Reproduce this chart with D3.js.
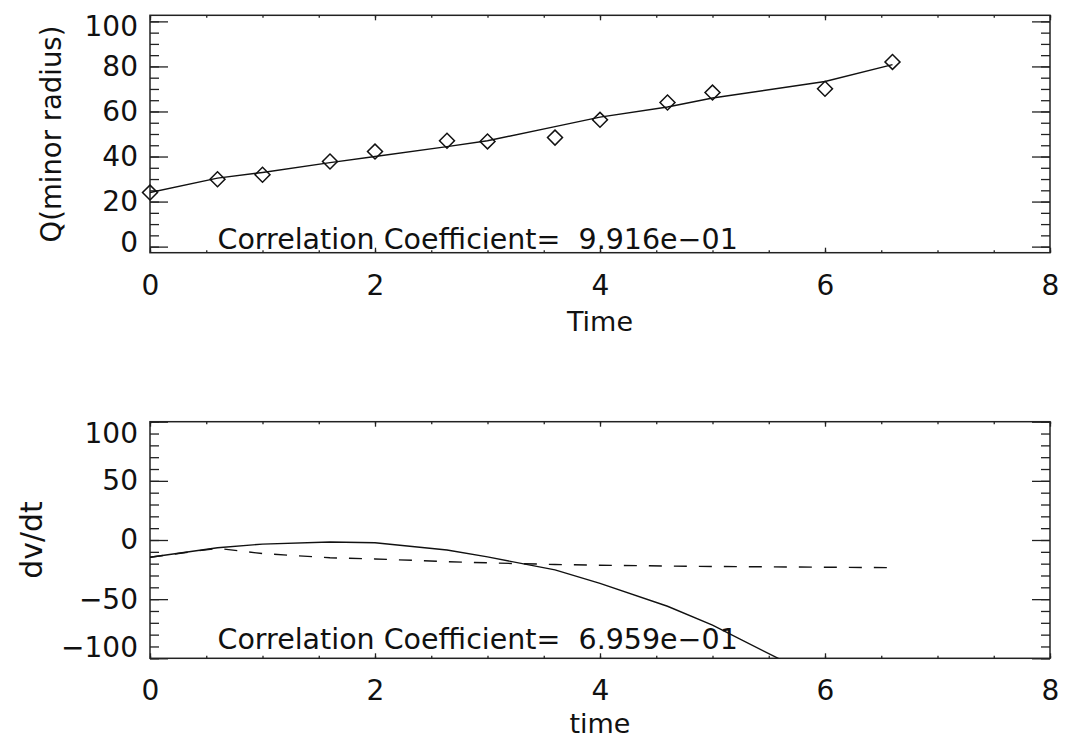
<!DOCTYPE html>
<html>
<head>
<meta charset="utf-8">
<script src="https://cdn.jsdelivr.net/npm/d3@7"></script>
<style>
body { margin: 0; background: #fff; }
svg { display: block; }
text { font-family: "DejaVu Sans", sans-serif; fill: #111; }
.frame { fill: none; stroke: #222; stroke-width: 1.5; }
.tick line { stroke: #222; stroke-width: 1.3; }
.domain { display: none; }
</style>
</head>
<body>
<script>
var width = 1066,
    height = 742;

// sample times
var times = [0, 0.6, 1.0, 1.6, 2.0, 2.64, 3.0, 3.6, 4.0, 4.6, 5.0, 6.0, 6.6];

// upper panel: Q(minor radius)
var radiusObs = [24.0, 29.9, 31.9, 37.8, 42.2, 47.0, 46.7, 48.4, 56.3, 64.0, 68.4, 70.1, 82.0];
var radiusFit = [24.0, 30.4, 32.9, 37.3, 40.0, 44.4, 47.0, 53.3, 57.5, 62.0, 66.0, 73.3, 80.8];

// lower panel: dv/dt
var dvdtSolid = [-14.6, -6.5, -3.5, -1.7, -2.3, -8.5, -14.3, -25.3, -36.6, -56.0, -72.0, -120.0, -150.0];
var dvdtDashed = [-14.6, -7.0, -11.5, -15.0, -16.0, -18.3, -19.3, -20.7, -21.3, -22.0, -22.4, -23.0, -23.4];

// axes
var timeTicks = [0, 2, 4, 6, 8];
var radiusTicks = [0, 20, 40, 60, 80, 100];
var dvdtTicks = [-100, -50, 0, 50, 100];
var radiusRange = [-2.7, 102.7];
var dvdtRange = [-100, 100];

var corrTexts = ["Correlation Coefficient=  9.916e\u221201", "Correlation Coefficient=  6.959e\u221201"];

var svg = d3.select("body").append("svg")
    .attr("width", width)
    .attr("height", height);

svg.append("rect")
    .attr("width", width)
    .attr("height", height)
    .attr("fill", "#fff");

function drawPanel(p) {
    var w = 900, h = p.h;
    var g = svg.append("g").attr("transform", "translate(150," + p.top + ")");

    var x = d3.scaleLinear().domain([0, 8]).range([0, w]);
    var y = d3.scaleLinear().domain(p.yDomain).range([h, 0]);

    var clipId = "clip" + p.id;
    g.append("clipPath").attr("id", clipId)
        .append("rect").attr("width", w).attr("height", h);

    // minor ticks
    var xMinor = d3.range(0, 8.001, 0.5);
    var yMinor = d3.range(p.yTicks[0], p.yTicks[p.yTicks.length - 1] + 0.001, p.yMinorStep);

    g.append("g").attr("transform", "translate(0," + h + ")")
        .call(d3.axisBottom(x).tickValues(xMinor).tickSize(-2.5).tickFormat(""));
    g.append("g")
        .call(d3.axisTop(x).tickValues(xMinor).tickSize(-2.5).tickFormat(""));
    g.append("g")
        .call(d3.axisLeft(y).tickValues(yMinor).tickSize(-9).tickFormat(""));
    g.append("g").attr("transform", "translate(" + w + ",0)")
        .call(d3.axisRight(y).tickValues(yMinor).tickSize(-9).tickFormat(""));

    // major ticks with labels
    var xAx = g.append("g").attr("transform", "translate(0," + h + ")")
        .call(d3.axisBottom(x).tickValues(timeTicks).tickSize(-5).tickPadding(22).tickFormat(d3.format("d")));
    g.append("g")
        .call(d3.axisTop(x).tickValues(timeTicks).tickSize(-5).tickFormat(""));
    var yAx = g.append("g")
        .call(d3.axisLeft(y).tickValues(p.yTicks).tickSize(-18).tickPadding(12)
            .tickFormat(function(d) { return d < 0 ? "\u2212" + Math.abs(d) : d; }));
    g.append("g").attr("transform", "translate(" + w + ",0)")
        .call(d3.axisRight(y).tickValues(p.yTicks).tickSize(-18).tickFormat(""));

    xAx.selectAll("text").style("font-size", "28px").style("font-family", null);
    // keep end labels inside the axis extent
    var half = 10.5;
    yAx.selectAll("text")
        .style("font-size", "28px").style("font-family", null)
        .attr("y", function(d) {
            var c = y(d);
            var cc = Math.max(half + 1, Math.min(h - half, c));
            return cc - c;
        });

    // frame
    g.append("rect").attr("class", "frame").attr("width", w).attr("height", h);

    var line = d3.line()
        .x(function(d) { return x(d[0]); })
        .y(function(d) { return y(d[1]); });

    var plot = g.append("g").attr("clip-path", "url(#" + clipId + ")");
    p.series.forEach(function(s) {
        plot.append("path")
            .datum(d3.zip(times, s.values))
            .attr("fill", "none")
            .attr("stroke", "#111")
            .attr("stroke-width", 1.4)
            .attr("stroke-dasharray", s.dash || null)
            .attr("d", line);
    });

    if (p.points) {
        g.selectAll(".pt").data(d3.zip(times, p.points)).enter()
            .append("path")
            .attr("class", "pt")
            .attr("transform", function(d) { return "translate(" + x(d[0]) + "," + y(d[1]) + ") rotate(45)"; })
            .attr("d", d3.symbol(d3.symbolSquare, 112))
            .attr("fill", "none")
            .attr("stroke", "#111")
            .attr("stroke-width", 1.5);
    }

    // correlation annotation
    g.append("text")
        .attr("x", x(0.6))
        .attr("y", y(p.corrY))
        .style("font-size", "28.5px")
        .style("white-space", "pre")
        .text(p.corr);

    // axis titles
    g.append("text")
        .attr("x", w / 2)
        .attr("y", h + p.xTitleDy)
        .attr("text-anchor", "middle")
        .style("font-size", "27px")
        .text(p.xTitle);

    g.append("text")
        .attr("transform", "translate(" + p.yTitleX + "," + (h / 2) + ") rotate(-90)")
        .attr("text-anchor", "middle")
        .style("font-size", p.yTitleSize + "px")
        .text(p.yTitle);
}

drawPanel({
    id: "top", top: 15.3, h: 237.4,
    yDomain: radiusRange, yTicks: radiusTicks, yMinorStep: 5,
    series: [{ values: radiusFit }],
    points: radiusObs,
    corr: corrTexts[0], corrY: -1,
    xTitle: "Time", xTitleDy: 78,
    yTitle: "Q(minor radius)", yTitleX: -89, yTitleSize: 27.5
});

drawPanel({
    id: "bottom", top: 421.7, h: 236.6,
    yDomain: dvdtRange, yTicks: dvdtTicks, yMinorStep: 10,
    series: [{ values: dvdtSolid }, { values: dvdtDashed, dash: "13,12" }],
    points: null,
    corr: corrTexts[1], corrY: -92,
    xTitle: "time", xTitleDy: 75,
    yTitle: "dv/dt", yTitleX: -108, yTitleSize: 30
});
</script>
</body>
</html>
